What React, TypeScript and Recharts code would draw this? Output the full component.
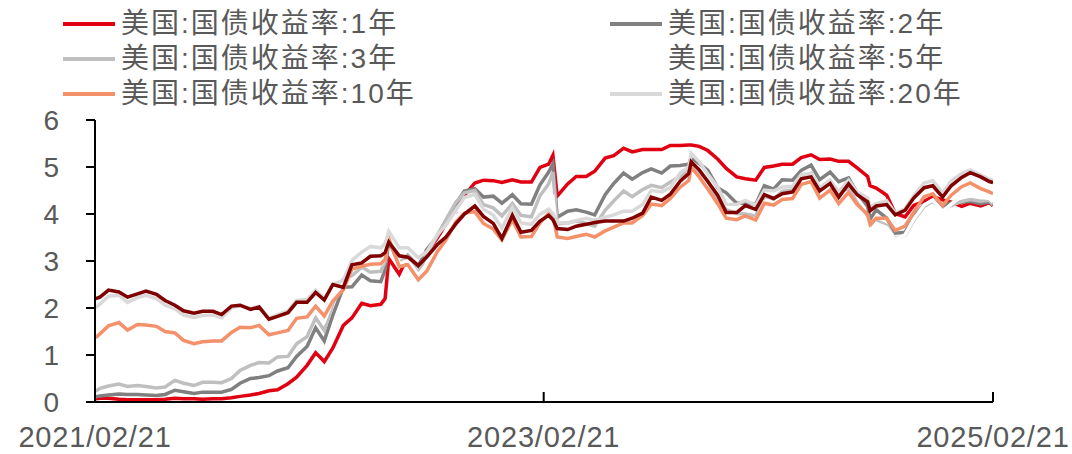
import React from 'react';
import { LineChart, Line, XAxis, YAxis } from 'recharts';

// Sampling dates (roughly twice a month, plus a few event days)
const dates = [
  '2021-02-22', '2021-03-01', '2021-03-15', '2021-04-01', '2021-04-15', '2021-05-01', '2021-05-15',
  '2021-06-01', '2021-06-15', '2021-07-01', '2021-07-15', '2021-08-01', '2021-08-15', '2021-09-01',
  '2021-09-15', '2021-10-01', '2021-10-15', '2021-11-01', '2021-11-15', '2021-12-01', '2021-12-15',
  '2022-01-01', '2022-01-15', '2022-02-01', '2022-02-15', '2022-03-01', '2022-03-15', '2022-04-01',
  '2022-04-15', '2022-05-01', '2022-05-15', '2022-06-01', '2022-06-08', '2022-06-14', '2022-07-01',
  '2022-07-15', '2022-08-01', '2022-08-15', '2022-09-01', '2022-09-15', '2022-10-01', '2022-10-15',
  '2022-11-01', '2022-11-15', '2022-12-01', '2022-12-15', '2023-01-01', '2023-01-15', '2023-02-01',
  '2023-02-15', '2023-03-01', '2023-03-08', '2023-03-15', '2023-04-01', '2023-04-15', '2023-05-01',
  '2023-05-15', '2023-06-01', '2023-06-15', '2023-07-01', '2023-07-15', '2023-08-01', '2023-08-15',
  '2023-09-01', '2023-09-15', '2023-10-01', '2023-10-15', '2023-10-19', '2023-11-01', '2023-11-15',
  '2023-12-01', '2023-12-15', '2024-01-01', '2024-01-15', '2024-02-01', '2024-02-15', '2024-03-01',
  '2024-03-15', '2024-04-01', '2024-04-15', '2024-05-01', '2024-05-15', '2024-06-01', '2024-06-15',
  '2024-07-01', '2024-07-15', '2024-08-01', '2024-08-05', '2024-08-15', '2024-09-01', '2024-09-15',
  '2024-10-01', '2024-10-15', '2024-11-01', '2024-11-15', '2024-12-01', '2024-12-15', '2025-01-01',
  '2025-01-15', '2025-02-01', '2025-02-15', '2025-02-21',
];

const y1 = [
  0.07, 0.08, 0.08, 0.06, 0.05, 0.05, 0.05, 0.05, 0.06, 0.08, 0.07, 0.07, 0.06, 0.07,
  0.07, 0.09, 0.12, 0.15, 0.18, 0.24, 0.26, 0.39, 0.53, 0.78, 1.05, 0.86, 1.15, 1.63,
  1.79, 2.10, 2.05, 2.08, 2.20, 3.05, 2.72, 3.10, 2.90, 3.20, 3.47, 3.80, 4.05, 4.40,
  4.66, 4.72, 4.71, 4.67, 4.73, 4.68, 4.68, 4.99, 5.06, 5.25, 4.38, 4.64, 4.80, 4.80,
  4.91, 5.19, 5.24, 5.40, 5.32, 5.37, 5.37, 5.37, 5.46, 5.46, 5.47, 5.47, 5.44, 5.35,
  5.17, 4.97, 4.79, 4.75, 4.72, 4.99, 5.02, 5.06, 5.06, 5.20, 5.26, 5.16, 5.17, 5.12,
  5.12, 4.98, 4.80, 4.60, 4.55, 4.40, 4.01, 3.94, 4.18, 4.27, 4.37, 4.30, 4.25, 4.16,
  4.23, 4.17, 4.24, 4.18,
];

const y2 = [
  0.11, 0.13, 0.15, 0.17, 0.16, 0.16, 0.15, 0.14, 0.16, 0.25, 0.22, 0.18, 0.21, 0.21,
  0.21, 0.27, 0.40, 0.50, 0.52, 0.56, 0.66, 0.73, 0.97, 1.18, 1.58, 1.30, 1.85, 2.44,
  2.45, 2.70, 2.58, 2.56, 2.81, 3.43, 2.92, 3.12, 2.89, 3.25, 3.52, 3.87, 4.22, 4.49,
  4.54, 4.36, 4.38, 4.23, 4.41, 4.22, 4.21, 4.62, 4.89, 5.07, 3.93, 4.06, 4.09, 4.04,
  3.98, 4.41, 4.65, 4.87, 4.74, 4.88, 4.96, 4.87, 5.02, 5.03, 5.06, 5.20, 5.07, 4.93,
  4.56, 4.45, 4.23, 4.23, 4.21, 4.60, 4.53, 4.73, 4.72, 4.93, 5.04, 4.73, 4.89, 4.69,
  4.77, 4.45, 4.16, 3.89, 4.09, 3.91, 3.59, 3.61, 3.95, 4.20, 4.30, 4.15, 4.24, 4.25,
  4.27, 4.22, 4.26, 4.19,
];

const y3 = [
  0.23, 0.29, 0.34, 0.38, 0.33, 0.35, 0.33, 0.30, 0.32, 0.46, 0.40, 0.35, 0.42, 0.42,
  0.41, 0.50, 0.67, 0.78, 0.84, 0.83, 0.96, 0.97, 1.24, 1.39, 1.79, 1.52, 2.10, 2.61,
  2.69, 2.87, 2.76, 2.78, 2.99, 3.55, 2.96, 3.11, 2.73, 3.15, 3.55, 3.87, 4.25, 4.45,
  4.50, 4.20, 4.13, 3.96, 4.22, 3.97, 3.94, 4.39, 4.64, 4.89, 3.79, 3.81, 3.85, 3.80,
  3.74, 4.08, 4.28, 4.49, 4.37, 4.52, 4.61, 4.56, 4.68, 4.80, 4.92, 5.08, 4.89, 4.71,
  4.27, 4.09, 4.01, 4.00, 3.96, 4.38, 4.32, 4.48, 4.51, 4.79, 4.87, 4.54, 4.66, 4.45,
  4.55, 4.24, 3.94, 3.67, 3.86, 3.76, 3.47, 3.55, 3.86, 4.16, 4.27, 4.09, 4.18, 4.27,
  4.31, 4.27, 4.29, 4.20,
];

const y5 = [
  0.59, 0.71, 0.85, 0.92, 0.78, 0.86, 0.83, 0.80, 0.80, 0.90, 0.81, 0.69, 0.79, 0.78,
  0.79, 0.96, 1.11, 1.20, 1.23, 1.16, 1.25, 1.26, 1.55, 1.62, 1.94, 1.71, 2.18, 2.55,
  2.79, 2.96, 2.88, 2.92, 3.03, 3.60, 2.94, 3.01, 2.70, 2.93, 3.36, 3.63, 4.06, 4.24,
  4.27, 3.90, 3.82, 3.61, 3.99, 3.61, 3.63, 4.03, 4.26, 4.35, 3.51, 3.60, 3.60, 3.60,
  3.47, 3.81, 3.97, 4.13, 4.04, 4.18, 4.33, 4.29, 4.44, 4.60, 4.74, 4.97, 4.78, 4.50,
  4.14, 3.92, 3.84, 3.86, 3.84, 4.25, 4.16, 4.32, 4.34, 4.66, 4.72, 4.37, 4.52, 4.23,
  4.39, 4.14, 3.84, 3.62, 3.80, 3.71, 3.45, 3.56, 3.89, 4.19, 4.30, 4.05, 4.21, 4.38,
  4.43, 4.36, 4.33, 4.26,
];

const y10 = [
  1.37, 1.45, 1.62, 1.69, 1.53, 1.65, 1.64, 1.61, 1.50, 1.47, 1.31, 1.24, 1.28, 1.30,
  1.30, 1.48, 1.59, 1.58, 1.63, 1.43, 1.47, 1.52, 1.78, 1.81, 2.04, 1.83, 2.15, 2.39,
  2.83, 2.89, 2.93, 2.94, 3.03, 3.48, 2.88, 2.92, 2.60, 2.79, 3.20, 3.45, 3.83, 4.02,
  4.05, 3.80, 3.68, 3.45, 3.88, 3.51, 3.52, 3.81, 4.01, 3.98, 3.51, 3.48, 3.52, 3.57,
  3.51, 3.64, 3.72, 3.81, 3.81, 3.97, 4.21, 4.18, 4.33, 4.57, 4.71, 4.99, 4.79, 4.53,
  4.22, 3.91, 3.88, 3.96, 3.87, 4.23, 4.19, 4.31, 4.33, 4.63, 4.69, 4.34, 4.51, 4.22,
  4.46, 4.20, 3.99, 3.78, 3.91, 3.91, 3.65, 3.74, 4.04, 4.37, 4.43, 4.18, 4.40, 4.58,
  4.66, 4.54, 4.47, 4.43,
];

const y20 = [
  2.01, 2.08, 2.25, 2.27, 2.12, 2.22, 2.27, 2.20, 2.06, 1.98, 1.85, 1.80, 1.84, 1.85,
  1.79, 2.00, 2.06, 1.99, 2.04, 1.78, 1.86, 1.94, 2.16, 2.18, 2.38, 2.21, 2.50, 2.59,
  3.01, 3.19, 3.31, 3.28, 3.37, 3.63, 3.28, 3.28, 3.07, 3.20, 3.56, 3.76, 4.08, 4.35,
  4.42, 4.10, 3.98, 3.70, 4.14, 3.81, 3.78, 3.99, 4.10, 4.01, 3.82, 3.81, 3.86, 3.91,
  3.87, 3.93, 3.98, 4.06, 4.06, 4.20, 4.50, 4.47, 4.56, 4.87, 5.00, 5.29, 5.11, 4.85,
  4.57, 4.21, 4.20, 4.29, 4.19, 4.51, 4.49, 4.57, 4.59, 4.84, 4.86, 4.56, 4.72, 4.47,
  4.72, 4.47, 4.34, 4.15, 4.22, 4.28, 4.02, 4.11, 4.39, 4.66, 4.71, 4.45, 4.70, 4.86,
  4.94, 4.83, 4.74, 4.72,
];

const y30 = [
  2.20, 2.23, 2.38, 2.34, 2.23, 2.30, 2.36, 2.29, 2.16, 2.06, 1.94, 1.89, 1.93, 1.93,
  1.86, 2.04, 2.06, 1.97, 2.02, 1.76, 1.82, 1.90, 2.12, 2.12, 2.33, 2.17, 2.50, 2.44,
  2.92, 2.96, 3.10, 3.11, 3.18, 3.40, 3.11, 3.08, 2.90, 3.09, 3.35, 3.51, 3.79, 4.00,
  4.17, 3.95, 3.80, 3.48, 3.97, 3.61, 3.65, 3.85, 3.97, 3.88, 3.69, 3.67, 3.74, 3.78,
  3.82, 3.85, 3.85, 3.85, 3.91, 4.02, 4.36, 4.29, 4.42, 4.70, 4.86, 5.11, 4.94, 4.69,
  4.40, 4.03, 4.03, 4.18, 4.10, 4.41, 4.33, 4.43, 4.47, 4.75, 4.79, 4.49, 4.65, 4.36,
  4.64, 4.41, 4.26, 4.07, 4.17, 4.20, 3.98, 4.08, 4.34, 4.56, 4.60, 4.36, 4.60, 4.78,
  4.88, 4.79, 4.69, 4.67,
];

const tickDates = ['2021-02-21', '2023-02-21', '2025-02-21'];
const tickLabels = ['2021/02/21', '2023/02/21', '2025/02/21'];
const yTicks = [0, 1, 2, 3, 4, 5, 6];

const toTime = (s: string) => Date.parse(s + 'T00:00:00Z');
const tickValues = tickDates.map(toTime);

const data = dates.map((d, i) => ({
  t: toTime(d),
  y1: y1[i],
  y2: y2[i],
  y3: y3[i],
  y5: y5[i],
  y10: y10[i],
  y20: y20[i],
  y30: y30[i],
}));

type Series = { key: string; name: string; color: string; inLegend: boolean };

const series: Series[] = [
  { key: 'y1', name: '美国:国债收益率:1年', color: '#E00012', inLegend: true },
  { key: 'y2', name: '美国:国债收益率:2年', color: '#808080', inLegend: true },
  { key: 'y3', name: '美国:国债收益率:3年', color: '#BFBFBF', inLegend: true },
  { key: 'y5', name: '美国:国债收益率:5年', color: '#FFFFFF', inLegend: true },
  { key: 'y10', name: '美国:国债收益率:10年', color: '#F4916A', inLegend: true },
  { key: 'y20', name: '美国:国债收益率:20年', color: '#D9D9D9', inLegend: true },
  { key: 'y30', name: '美国:国债收益率:30年', color: '#800000', inLegend: false },
];

const FONT = "'Liberation Sans', Arial, 'Noto Sans CJK SC', sans-serif";
const TEXT = '#595959';

const XTick = (props: any) => {
  const { x, y, payload } = props;
  const idx = tickValues.indexOf(payload.value);
  const label = idx >= 0 ? tickLabels[idx] : '';
  return (
    <g>
      <line x1={x} x2={x} y1={y} y2={y - 10} stroke="#000" strokeWidth={2} />
      <text
        x={x}
        y={y + 45}
        textAnchor="middle"
        fontSize={29}
        fill={TEXT}
        fontFamily={FONT}
        letterSpacing={0.8}
      >
        {label}
      </text>
    </g>
  );
};

const legendCols = [63, 610];
const legendRows = [24, 59, 94];

const LegendBlock = () => {
  const items = series.filter((s) => s.inLegend);
  return (
    <>
      {items.map((s, i) => {
        const col = i % 2;
        const row = Math.floor(i / 2);
        return (
          <div
            key={s.key}
            style={{
              position: 'absolute',
              left: legendCols[col],
              top: legendRows[row] - 18,
              height: 36,
              display: 'flex',
              alignItems: 'center',
              whiteSpace: 'nowrap',
            }}
          >
            <div style={{ width: 52, height: 4, background: s.color, marginRight: 6 }} />
            <span
              style={{
                fontFamily: FONT,
                fontSize: 28,
                letterSpacing: 2,
                color: TEXT,
                lineHeight: '36px',
              }}
            >
              {s.name}
            </span>
          </div>
        );
      })}
    </>
  );
};

export default function App() {
  return (
    <div
      style={{
        position: 'absolute',
        left: 0,
        top: 0,
        width: 1072,
        height: 454,
        background: '#fff',
        overflow: 'hidden',
      }}
    >
      <LegendBlock />
      <div style={{ position: 'absolute', left: 0, top: 0 }}>
        <LineChart
          width={1072}
          height={454}
          data={data}
          margin={{ top: 120, right: 79, bottom: 0, left: 0 }}
        >
          <XAxis
            dataKey="t"
            type="number"
            domain={[tickValues[0], tickValues[2]]}
            ticks={tickValues}
            interval={0}
            allowDataOverflow
            height={52}
            axisLine={{ stroke: '#000', strokeWidth: 2 }}
            tickLine={false}
            tickSize={0}
            tickMargin={0}
            tick={<XTick />}
          />
          <YAxis
            type="number"
            domain={[0, 6]}
            ticks={yTicks}
            interval={0}
            width={95}
            axisLine={{ stroke: '#000', strokeWidth: 2 }}
            tickLine={{ stroke: '#000', strokeWidth: 2 }}
            tickSize={9}
            tickMargin={27}
            tick={{ fontSize: 28, fill: TEXT, fontFamily: FONT }}
          />
          {series.map((s) => (
            <Line
              key={s.key}
              type="linear"
              dataKey={s.key}
              name={s.name}
              stroke={s.color}
              strokeWidth={3.5}
              dot={false}
              activeDot={false}
              isAnimationActive={false}
            />
          ))}
        </LineChart>
      </div>
    </div>
  );
}
